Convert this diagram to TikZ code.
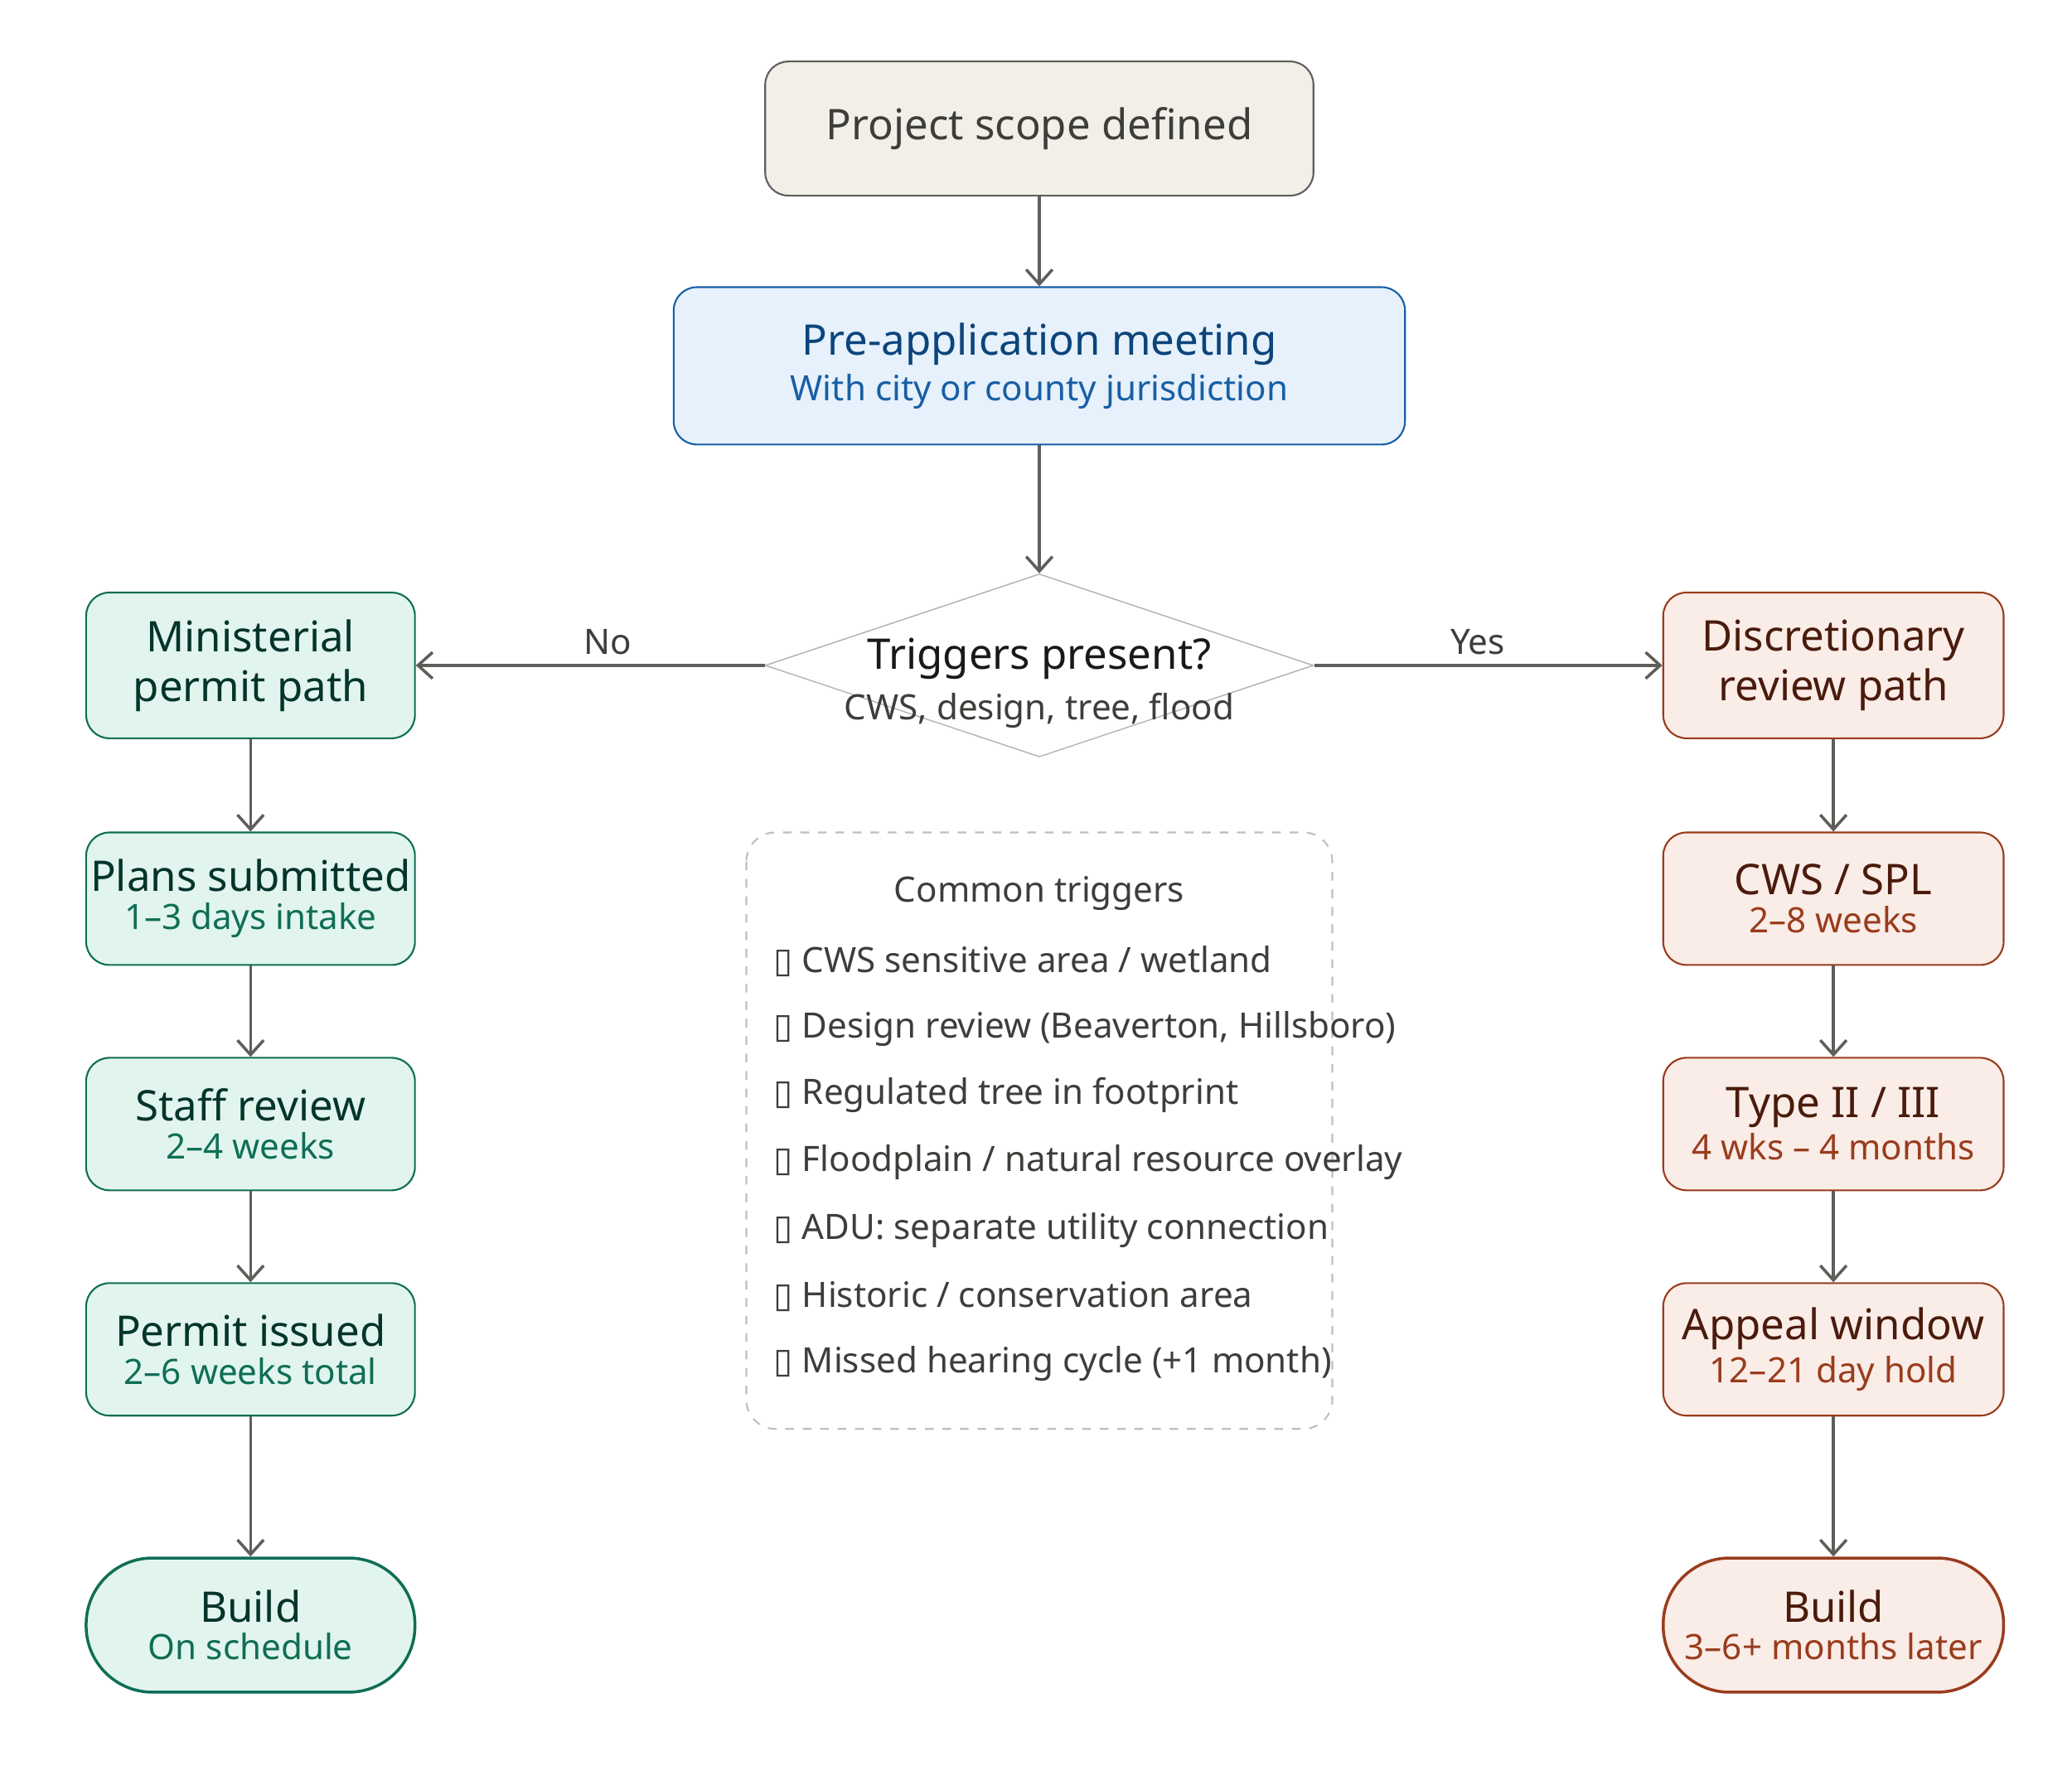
\documentclass[tikz,border=0pt]{standalone}
\usepackage{fontspec}
\setmainfont{Noto Sans}
\newfontfamily\symfont{DejaVu Sans}
\usetikzlibrary{shapes.geometric,arrows.meta}
\definecolor{neutfill}{HTML}{F1EFE8}
\definecolor{neutdraw}{HTML}{5F5E5A}
\definecolor{bluefill}{HTML}{E6F1FB}
\definecolor{bluedraw}{HTML}{185FA5}
\definecolor{bluetext}{HTML}{0C447C}
\definecolor{grnfill}{HTML}{E1F5EE}
\definecolor{grndraw}{HTML}{0F6E56}
\definecolor{grntext}{HTML}{04342C}
\definecolor{redfill}{HTML}{FAECE7}
\definecolor{reddraw}{HTML}{993C1D}
\definecolor{redtext}{HTML}{4A1B0C}
\definecolor{txt}{HTML}{3D3D3A}
\tikzset{
  box/.style={rectangle,rounded corners=8pt,draw,line width=0.6pt,align=center,inner sep=0pt},
  grn/.style={box,fill=grnfill,draw=grndraw,text=grntext,minimum width=3.97cm},
  red/.style={box,fill=redfill,draw=reddraw,text=redtext,minimum width=4.11cm},
  arr/.style={-{Straight Barb[length=5pt,width=9pt]},draw=neutdraw,line width=1pt},
  item/.style={anchor=west,text=txt,font=\fontsize{12}{14}\selectfont},
}
\newcommand{\tbox}{{\symfont ▯}}
\begin{document}
\begin{tikzpicture}[x=0.016cm,y=-0.016cm]
	\useasboundingbox (0,0) rectangle (1563,1332);
	
	\node[box,fill=neutfill,draw=neutdraw,text=txt,minimum width=6.62cm,minimum height=1.62cm,font=\fontsize{14.5}{17}\selectfont] (scope) at (784,97) {Project scope defined};
	\node[box,fill=bluefill,draw=bluedraw,text=bluetext,minimum width=8.83cm,minimum height=1.9cm] (pre) at (784,276)
		{\fontsize{14.5}{17}\selectfont Pre-application meeting\\[2pt]\color{bluedraw}\fontsize{12}{14}\selectfont With city or county jurisdiction};
	\node[diamond,draw=black!30,fill=white,minimum width=6.62cm,minimum height=2.21cm,inner sep=0pt,aspect=3] (trig) at (784,502) {};
	\node[text=black!90,font=\fontsize{14.5}{17}\selectfont] (trigt) at (784,497) {Triggers present?};
	\node[text=txt,font=\fontsize{12}{14}\selectfont] (trigs) at (784,536) {CWS, design, tree, flood};
	
	% left path
	\node[grn,minimum height=1.76cm,font=\fontsize{14.5}{17}\selectfont] (mini) at (189,502) {Ministerial\\permit path};
	\node[grn,minimum height=1.6cm] (plans) at (189,678) {\fontsize{14.5}{17}\selectfont Plans submitted\\[1pt]\color{grndraw}\fontsize{12}{14}\selectfont 1–3 days intake};
	\node[grn,minimum height=1.6cm] (staff) at (189,848) {\fontsize{14.5}{17}\selectfont Staff review\\[1pt]\color{grndraw}\fontsize{12}{14}\selectfont 2–4 weeks};
	\node[grn,minimum height=1.6cm] (issued) at (189,1018) {\fontsize{14.5}{17}\selectfont Permit issued\\[1pt]\color{grndraw}\fontsize{12}{14}\selectfont 2–6 weeks total};
	\node[grn,rounded corners=0.8cm,line width=1pt,minimum height=1.62cm] (buildl) at (189,1226) {\fontsize{14.5}{17}\selectfont Build\\[1pt]\color{grndraw}\fontsize{12}{14}\selectfont On schedule};
	
	% right path
	\node[red,minimum height=1.76cm,font=\fontsize{14.5}{17}\selectfont] (disc) at (1383,502) {Discretionary\\review path};
	\node[red,minimum height=1.6cm] (cws) at (1383,678) {\fontsize{14.5}{17}\selectfont CWS / SPL\\[1pt]\color{reddraw}\fontsize{12}{14}\selectfont 2–8 weeks};
	\node[red,minimum height=1.6cm] (type) at (1383,848) {\fontsize{14.5}{17}\selectfont Type II / III\\[1pt]\color{reddraw}\fontsize{12}{14}\selectfont 4 wks – 4 months};
	\node[red,minimum height=1.6cm] (appeal) at (1383,1018) {\fontsize{14.5}{17}\selectfont Appeal window\\[1pt]\color{reddraw}\fontsize{12}{14}\selectfont 12–21 day hold};
	\node[red,rounded corners=0.8cm,line width=1pt,minimum height=1.62cm] (buildr) at (1383,1226) {\fontsize{14.5}{17}\selectfont Build\\[1pt]\color{reddraw}\fontsize{12}{14}\selectfont 3–6+ months later};
	
	% triggers list
	\draw[black!25,dashed,rounded corners=10pt,line width=0.6pt] (563,628) rectangle (1005,1078);
	\node[text=txt,font=\fontsize{12}{14}\selectfont] (listt) at (784,674) {Common triggers};
	\node[item] (l1) at (576,725) {\tbox\ CWS sensitive area / wetland};
	\node[item] (l2) at (576,776) {\tbox\ Design review (Beaverton, Hillsboro)};
	\node[item] (l3) at (576,826) {\tbox\ Regulated tree in footprint};
	\node[item] (l4) at (576,877) {\tbox\ Floodplain / natural resource overlay};
	\node[item] (l5) at (576,928) {\tbox\ ADU: separate utility connection};
	\node[item] (l6) at (576,978) {\tbox\ Historic / conservation area};
	\node[item] (l7) at (576,1029) {\tbox\ Missed hearing cycle (+1 month)};
	
	\draw[arr] (scope) -- (pre);
	\draw[arr] (pre) -- (trig);
	\draw[arr] (trig) -- node[above,text=txt,font=\fontsize{12}{14}\selectfont,pos=0.45] {No} (mini);
	\draw[arr] (trig) -- node[above,text=txt,font=\fontsize{12}{14}\selectfont,pos=0.47] {Yes} (disc);
	\draw[arr] (mini) -- (plans);
	\draw[arr] (plans) -- (staff);
	\draw[arr] (staff) -- (issued);
	\draw[arr] (issued) -- (buildl);
	\draw[arr] (disc) -- (cws);
	\draw[arr] (cws) -- (type);
	\draw[arr] (type) -- (appeal);
	\draw[arr] (appeal) -- (buildr);
	
\end{tikzpicture}
\end{document}
